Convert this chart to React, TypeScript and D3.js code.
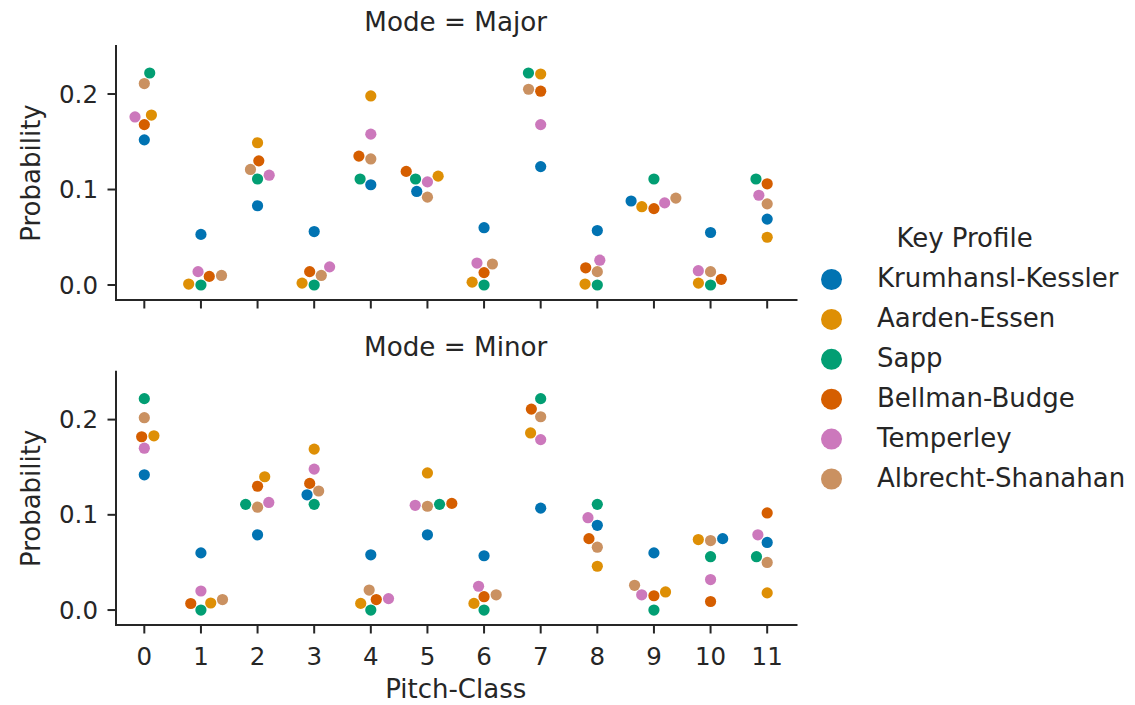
import React from "react";
import * as d3 from "d3";

const profiles = ["Krumhansl-Kessler", "Aarden-Essen", "Sapp", "Bellman-Budge", "Temperley", "Albrecht-Shanahan"];
const colors = ["#0173b2", "#de8f05", "#029e73", "#d55e00", "#cc78bc", "#ca9161"];
const pitchClasses = [0, 1, 2, 3, 4, 5, 6, 7, 8, 9, 10, 11];
const modes = ["Major", "Minor"];
const yTicks = [0.0, 0.1, 0.2];

const majorKK = [0.152, 0.053, 0.083, 0.056, 0.105, 0.098, 0.060, 0.124, 0.057, 0.088, 0.055, 0.069];
const majorAE = [0.178, 0.001, 0.149, 0.002, 0.198, 0.114, 0.003, 0.221, 0.001, 0.082, 0.002, 0.050];
const majorSapp = [0.222, 0, 0.111, 0, 0.111, 0.111, 0, 0.222, 0, 0.111, 0, 0.111];
const majorBB = [0.168, 0.009, 0.130, 0.014, 0.135, 0.119, 0.013, 0.203, 0.018, 0.080, 0.006, 0.106];
const majorTemp = [0.176, 0.014, 0.115, 0.019, 0.158, 0.108, 0.023, 0.168, 0.026, 0.086, 0.015, 0.094];
const majorAS = [0.211, 0.010, 0.121, 0.010, 0.132, 0.092, 0.022, 0.205, 0.014, 0.091, 0.014, 0.085];

const minorKK = [0.142, 0.060, 0.079, 0.121, 0.058, 0.079, 0.057, 0.107, 0.089, 0.060, 0.075, 0.071];
const minorAE = [0.183, 0.0074, 0.140, 0.169, 0.007, 0.144, 0.007, 0.186, 0.046, 0.019, 0.074, 0.018];
const minorSapp = [0.222, 0, 0.111, 0.111, 0, 0.111, 0, 0.222, 0.111, 0, 0.056, 0.056];
const minorBB = [0.182, 0.0069, 0.130, 0.133, 0.011, 0.112, 0.014, 0.211, 0.075, 0.015, 0.009, 0.102];
const minorTemp = [0.170, 0.020, 0.113, 0.148, 0.012, 0.110, 0.025, 0.179, 0.097, 0.016, 0.032, 0.079];
const minorAS = [0.202, 0.011, 0.108, 0.125, 0.021, 0.109, 0.016, 0.203, 0.066, 0.026, 0.073, 0.050];

const seriesByMode: number[][][] = [
  [majorKK, majorAE, majorSapp, majorBB, majorTemp, majorAS],
  [minorKK, minorAE, minorSapp, minorBB, minorTemp, minorAS],
];

// Swarm tie-breaking: points listed here resolve (near-)equal-offset candidates to the right.
const tieRight = [
  "Major-0-Sapp",
  "Major-1-Albrecht",
  "Major-2-Temperley",
  "Major-6-Albrecht",
  "Major-8-Temperley",
  "Minor-1-Albrecht",
  "Minor-2-Aarden",
  "Minor-5-Bellman",
];

const FONT = "DejaVu Sans, sans-serif";
const TEXT = "#262626";

const W = 1135;
const H = 705;
const plotLeft = 116;
const plotRight = 795.5;
const panels = [
  { top: 46, bottom: 300 },
  { top: 371.7, bottom: 625 },
];
const yDomain: [number, number] = [-0.0157, 0.2503];
const R = 5.6; // dot radius
const D = 11.7; // swarm spacing diameter
const TIE = 0.3;

type Pt = { x: number; y: number; c: number };

function beeswarm(items: { y: number; c: number; v: number; right: boolean }[], mid: number, d: number): Pt[] {
  const sorted = items.map((it, i) => ({ ...it, i })).sort((a, b) => (a.v - b.v) || (a.i - b.i));
  const placed: Pt[] = [];
  for (const p of sorted) {
    if (placed.length === 0) {
      placed.push({ x: mid, y: p.y, c: p.c });
      continue;
    }
    const neighbors: Pt[] = [];
    for (let j = placed.length - 1; j >= 0; j--) {
      if (Math.abs(p.y - placed[j].y) < d) neighbors.push(placed[j]);
      else break;
    }
    neighbors.reverse();
    const cands: { x: number; y: number }[] = [{ x: mid, y: p.y }];
    let leftFirst = true;
    for (const n of neighbors) {
      const dy = p.y - n.y;
      const dx = Math.sqrt(Math.max(d * d - dy * dy, 0)) * 1.05;
      const cl = { x: n.x - dx, y: p.y };
      const cr = { x: n.x + dx, y: p.y };
      if (leftFirst) cands.push(cl, cr);
      else cands.push(cr, cl);
      leftFirst = !leftFirst;
    }
    const ordered = cands
      .map((c, i) => ({ c, i, off: Math.abs(c.x - mid) }))
      .sort((a, b) => {
        if (Math.abs(a.off - b.off) < TIE) {
          if (p.right && Math.abs(a.c.x - b.c.x) > 1e-6) return b.c.x - a.c.x;
          return a.i - b.i;
        }
        return a.off - b.off;
      });
    let chosen = ordered[0].c;
    for (const o of ordered) {
      if (neighbors.every((n) => (n.x - o.c.x) ** 2 + (n.y - o.c.y) ** 2 >= d * d - 1e-9)) {
        chosen = o.c;
        break;
      }
    }
    placed.push({ x: chosen.x, y: chosen.y, c: p.c });
  }
  return placed;
}

export default function App() {
  const x = d3.scaleLinear().domain([-0.5, 11.5]).range([plotLeft, plotRight]);

  return (
    <div style={{ position: "absolute", left: 0, top: 0 }}>
      <svg width={W} height={H} style={{ display: "block", background: "#fff" }} fontFamily={FONT}>
        {panels.map((pan, mi) => {
          const y = d3.scaleLinear().domain(yDomain).range([pan.bottom, pan.top]);
          const cy = (pan.top + pan.bottom) / 2;
          const dots: Pt[] = [];
          pitchClasses.forEach((pc) => {
            const items = profiles.map((name, c) => ({
              v: seriesByMode[mi][c][pc],
              y: y(seriesByMode[mi][c][pc]),
              c,
              right: tieRight.includes(`${modes[mi]}-${pc}-${name.split("-")[0]}`),
            }));
            dots.push(...beeswarm(items, x(pc), D));
          });
          return (
            <g key={mi}>
              <text x={455.7} y={pan.top - 15.5} textAnchor="middle" fontSize={26.2} fill={TEXT}>
                {`Mode = ${modes[mi]}`}
              </text>
              {yTicks.map((t) => (
                <g key={t}>
                  <line x1={plotLeft - 8.5} x2={plotLeft} y1={y(t)} y2={y(t)} stroke={TEXT} strokeWidth={2} />
                  <text x={98} y={y(t) + 8.6} textAnchor="end" fontSize={24.5} fill={TEXT}>
                    {d3.format(".1f")(t)}
                  </text>
                </g>
              ))}
              {pitchClasses.map((pc) => (
                <g key={pc}>
                  <line x1={x(pc)} x2={x(pc)} y1={pan.bottom} y2={pan.bottom + 8.5} stroke={TEXT} strokeWidth={2} />
                  {mi === 1 && (
                    <text x={x(pc)} y={pan.bottom + 39.5} textAnchor="middle" fontSize={24.5} fill={TEXT}>
                      {pc}
                    </text>
                  )}
                </g>
              ))}
              <line x1={plotLeft} x2={plotLeft} y1={pan.top} y2={pan.bottom} stroke={TEXT} strokeWidth={2} strokeLinecap="square" />
              <line x1={plotLeft} x2={plotRight + 1} y1={pan.bottom} y2={pan.bottom} stroke={TEXT} strokeWidth={2} strokeLinecap="square" />
              <text transform={`translate(39.5,${cy}) rotate(-90)`} textAnchor="middle" fontSize={26} fill={TEXT}>
                Probability
              </text>
              {dots.map((p, i) => (
                <circle key={i} cx={p.x} cy={p.y} r={R} fill={colors[p.c]} />
              ))}
            </g>
          );
        })}
        <text x={455.7} y={698} textAnchor="middle" fontSize={26} fill={TEXT}>
          Pitch-Class
        </text>
        <text x={964.5} y={246.5} textAnchor="middle" fontSize={26} fill={TEXT}>
          Key Profile
        </text>
        {profiles.map((p, i) => (
          <g key={p}>
            <circle cx={831.5} cy={279.5 + 39.9 * i} r={10.5} fill={colors[i]} />
            <text x={877} y={287.3 + 39.9 * i} fontSize={26} fill={TEXT}>
              {p}
            </text>
          </g>
        ))}
      </svg>
    </div>
  );
}
